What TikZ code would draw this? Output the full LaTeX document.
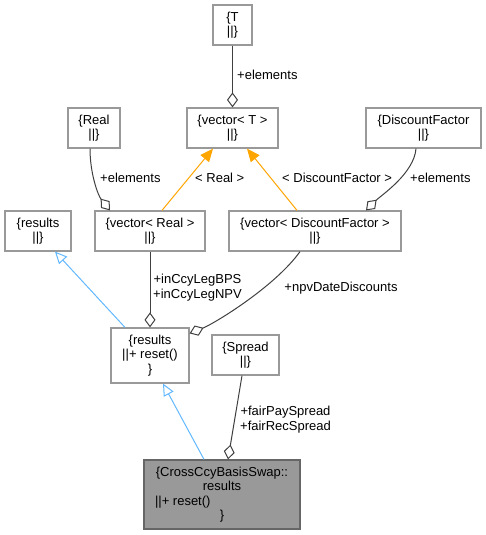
\documentclass[tikz,border=0pt]{standalone}
\usepackage{fontspec}
\setmainfont{Liberation Sans}
\usepackage{tikz}
\usetikzlibrary{arrows.meta, positioning}
\definecolor{boxgray}{HTML}{999999}
\definecolor{maingray}{HTML}{666666}
\definecolor{edgegray}{HTML}{404040}
\definecolor{inhblue}{HTML}{63B8FF}
\definecolor{tmplorange}{HTML}{FFA500}

\tikzset{
  cls/.style={draw=boxgray, line width=1.2pt, fill=white, align=center,
    inner sep=2pt, font=\fontsize{13}{14.5}\selectfont},
  mainbox/.style={cls, draw=maingray, fill=boxgray},
  lbl/.style={align=center, inner sep=0pt, font=\fontsize{13}{15}\selectfont},
  member/.style={draw=edgegray, line width=1pt,
    -{Diamond[open, length=15pt, width=11pt, line width=1pt]}},
  inherit/.style={draw=inhblue, line width=1pt,
    -{Triangle[open, length=12pt, width=11pt, line width=1pt]}},
  tmpl/.style={draw=tmplorange, line width=1pt,
    -{Triangle[length=13pt, width=11pt]}}
}

\begin{document}
\begin{tikzpicture}[x=1pt, y=-1pt]
  \useasboundingbox (0,0) rectangle (486,535);

  % classes
  \node[cls, minimum width=39pt, minimum height=40pt] (T) at (232.5,25) {\{T\\||\}};
  \node[cls, minimum width=91pt, minimum height=40pt] (vecT) at (232.5,128) {\{vector< T >\\||\}};
  \node[cls, minimum width=52pt, minimum height=40pt] (Real) at (94,128) {\{Real\\||\}};
  \node[cls, minimum width=115pt, minimum height=40pt] (DF) at (423.5,128) {\{DiscountFactor\\||\}};
  \node[cls, minimum width=66pt, minimum height=40pt] (results) at (38,231) {\{results\\||\}};
  \node[cls, minimum width=110pt, minimum height=40pt] (vecReal) at (150,231) {\{vector< Real >\\||\}};
  \node[cls, minimum width=172pt, minimum height=40pt] (vecDF) at (315,231) {\{vector< DiscountFactor >\\||\}};
  \node[cls, minimum width=78pt, minimum height=55pt] (resReset) at (150,355.5) {\{results\\||+ reset()\\\}};
  \node[cls, minimum width=67pt, minimum height=40pt] (Spread) at (245.5,355) {\{Spread\\||\}};
  \node[mainbox, minimum width=156pt, minimum height=69pt] (ccbs) at (222,494.5)
    {\{CrossCcyBasisSwap::\\results\\\makebox[134pt][l]{||+ reset()}\\\}};

  % template instances
  \draw[tmpl] ([xshift=12pt]vecReal.north) -- ([xshift=-19.5pt]vecT.south);
  \draw[tmpl] ([xshift=-18pt]vecDF.north) -- ([xshift=14.5pt]vecT.south);

  % inheritance
  \draw[inherit] ([xshift=-25pt]resReset.north) -- ([xshift=17pt]results.south);
  \draw[inherit] ([xshift=-18pt]ccbs.north) -- ([xshift=13pt]resReset.south);

  % members
  \draw[member] (T.south) -- (vecT.north);
  \draw[member] ([xshift=-4pt]Real.south) .. controls +(0,25) and +(-12,-15) .. ([xshift=-40pt]vecReal.north);
  \draw[member] ([xshift=-7.5pt]DF.south) .. controls +(-2,25) and +(15,-15) .. ([xshift=51pt]vecDF.north);
  \draw[member] (vecReal.south) -- (resReset.north);
  \draw[member] ([xshift=-15pt]vecDF.south) .. controls +(-25,35) and +(25,-10) .. ([yshift=-6pt]resReset.north east);
  \draw[member] ([xshift=-3.5pt]Spread.south) -- ([xshift=6pt]ccbs.north);

  % labels
  \node[lbl, anchor=west] (lblT) at (237,75) {+elements};
  \node[lbl, anchor=west] (lblReal) at (100,178) {+elements};
  \node[lbl, anchor=west] (lblTReal) at (195,178) {< Real >};
  \node[lbl, anchor=west] (lblTDF) at (282,178) {< DiscountFactor >};
  \node[lbl, anchor=west] (lblDF) at (410,178) {+elements};
  \node[lbl] (lblLeg) at (197.5,288) {+inCcyLegBPS\\+inCcyLegNPV};
  \node[lbl] (lblNpv) at (341,288) {+npvDateDiscounts};
  \node[lbl] (lblFair) at (285.5,420) {+fairPaySpread\\+fairRecSpread};
\end{tikzpicture}
\end{document}
